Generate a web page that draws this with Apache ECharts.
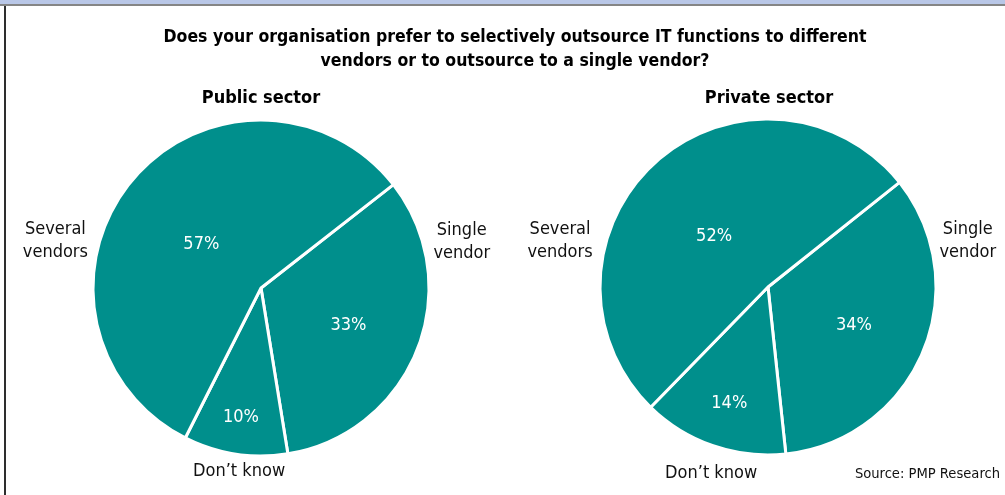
<!DOCTYPE html>
<html>
<head>
<meta charset="utf-8">
<script src="https://cdn.jsdelivr.net/npm/echarts@6/dist/echarts.min.js"></script>
<style>
  html, body { margin: 0; padding: 0; background: #ffffff; }
  #chart { position: absolute; left: 0; top: 0; width: 1005px; height: 495px; }
  .band { position: absolute; left: 0; top: 0; width: 1005px; height: 4px; background: #b9c7e7; border-bottom: 2px solid #858585; pointer-events: none; }
  .edge { position: absolute; left: 4px; top: 6px; width: 2px; height: 489px; background: #2e2e2e; pointer-events: none; }
</style>
</head>
<body>
<div id="chart"></div>
<div class="band"></div>
<div class="edge"></div>
<script>
// Survey answers, in drawing order (clockwise from the upper-right edge)
const categories = ['Single vendor', 'Don\u2019t know', 'Several vendors'];
const categoryLabels = ['Single\nvendor', 'Don\u2019t know', 'Several\nvendors'];
const publicValues = [33, 10, 57];
const privateValues = [34, 14, 52];
const sectorNames = ['Public sector', 'Private sector'];
const questionText = 'Does your organisation prefer to selectively outsource IT functions to different\nvendors or to outsource to a single vendor?';
const sourceText = 'Source: PMP Research';

const FONT = '"Liberation Sans Narrow", "DejaVu Sans Condensed", "Arial Narrow", sans-serif';
const TEAL = '#008f8c';

// Per-pie placement and label styling
const pieStyles = [
  {
    values: publicValues,
    center: [261, 288],
    radius: 168,
    startAngle: 38,
    valueLabelRadius: [0.565, 0.78, 0.44],
    valueLabelTurn: [-1.5, 0, 3.2],
    nameLabelPolar: [[13, 206], [-96.8, 185], [167, 211]],
    titleX: 256
  },
  {
    values: privateValues,
    center: [768, 287],
    radius: 168,
    startAngle: 38.5,
    valueLabelRadius: [0.56, 0.73, 0.44],
    valueLabelTurn: [-1.3, 0.7, 4.7],
    nameLabelPolar: [[13, 205], [-107, 194.5], [167.5, 213]],
    titleX: 764
  }
];

function midAngle(values, start, i) {
  const total = values.reduce((a, b) => a + b, 0);
  let acc = 0;
  for (let j = 0; j < i; j++) acc += values[j];
  return start - (acc + values[i] / 2) / total * 360;
}

function polar(center, angleDeg, dist) {
  const a = angleDeg * Math.PI / 180;
  return [center[0] + dist * Math.cos(a), center[1] - dist * Math.sin(a)];
}

const series = [];
pieStyles.forEach(function (ps) {
  const data = categories.map((c, i) => ({ name: c, value: ps.values[i] }));
  // Slices with percentage labels
  series.push({
    type: 'pie',
    center: ps.center,
    radius: [0, ps.radius],
    startAngle: ps.startAngle,
    clockwise: true,
    animation: false,
    silent: true,
    data: data,
    itemStyle: { color: TEAL, borderColor: '#ffffff', borderWidth: 3 },
    label: {
      show: true,
      position: 'inside',
      formatter: '{c}%',
      color: '#ffffff',
      fontFamily: FONT,
      fontSize: 18,
      fontWeight: 'normal'
    },
    labelLine: { show: false },
    labelLayout: function (p) {
      const i = p.dataIndex;
      const ang = midAngle(ps.values, ps.startAngle, i) + ps.valueLabelTurn[i];
      const pt = polar(ps.center, ang, ps.radius * ps.valueLabelRadius[i]);
      return { x: pt[0], y: pt[1], align: 'center', verticalAlign: 'middle' };
    }
  });
  // Category names around the pie
  series.push({
    type: 'pie',
    center: ps.center,
    radius: [0, ps.radius],
    startAngle: ps.startAngle,
    animation: false,
    silent: true,
    z: 3,
    data: data,
    itemStyle: { color: 'rgba(0,0,0,0)', borderWidth: 0 },
    label: {
      show: true,
      position: 'inside',
      overflow: 'none',
      formatter: function (p) { return categoryLabels[p.dataIndex]; },
      color: '#111111',
      fontFamily: FONT,
      fontSize: 18,
      lineHeight: 23,
      align: 'center'
    },
    labelLine: { show: false },
    labelLayout: function (p) {
      const pol = ps.nameLabelPolar[p.dataIndex];
      const pt = polar(ps.center, pol[0], pol[1]);
      return { x: pt[0], y: pt[1], align: 'center', verticalAlign: 'middle' };
    }
  });
});

const titles = [
  {
    text: questionText,
    left: 510,
    top: 20,
    textAlign: 'center',
    textStyle: { fontFamily: FONT, fontSize: 17.5, fontWeight: 'bold', color: '#000000', lineHeight: 24 }
  },
  {
    text: sourceText,
    right: 0,
    top: 458,
    textStyle: { fontFamily: FONT, fontSize: 14.6, fontWeight: 'normal', color: '#111111', lineHeight: 22 }
  }
];
pieStyles.forEach(function (ps, k) {
  titles.push({
    text: sectorNames[k],
    left: ps.titleX,
    top: 82,
    textAlign: 'center',
    textStyle: { fontFamily: FONT, fontSize: 18, fontWeight: 'bold', color: '#000000', lineHeight: 22 }
  });
});

const chart = echarts.init(document.getElementById('chart'), null, { renderer: 'canvas' });
chart.setOption({
  backgroundColor: '#ffffff',
  animation: false,
  title: titles,
  series: series
});
</script>
</body>
</html>
